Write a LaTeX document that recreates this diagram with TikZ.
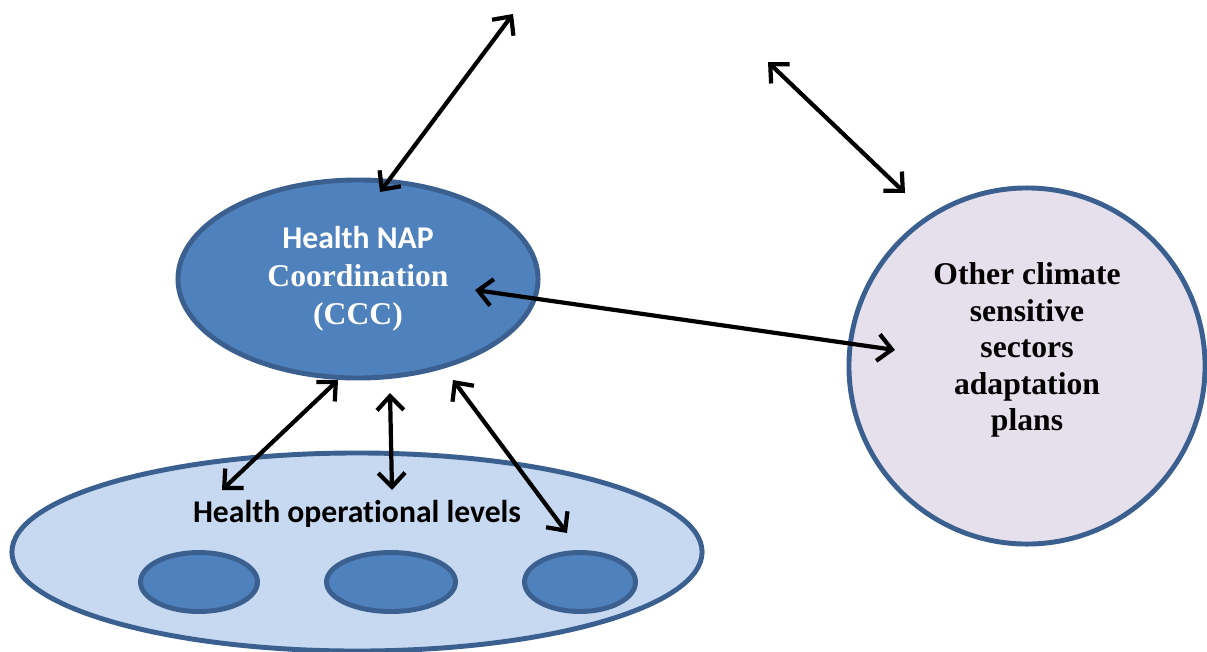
\documentclass[tikz,border=0pt]{standalone}
\usepackage{fontspec}
\setmainfont{Liberation Serif}
\newfontfamily\calibri[Ligatures=NoCommon]{Carlito}
\usepackage{tikz}
\usetikzlibrary{shapes.geometric,arrows.meta}

\definecolor{napblue}{HTML}{4F81BD}
\definecolor{napedge}{HTML}{3B6090}
\definecolor{opblue}{HTML}{C6D9F1}
\definecolor{seclilac}{HTML}{E5E0EC}

\begin{document}
\begin{tikzpicture}[x=0.025cm,y=-0.025cm,
    blob/.style={ellipse,draw=napedge,line width=3.5pt,inner sep=0pt},
    bigtext/.style={align=center,font=\fontsize{22.5}{27}\selectfont\bfseries},
    link/.style={<->,line width=3pt,>={Straight Barb[length=10pt,width=19pt]}}]
    \useasboundingbox (0,0) rectangle (1207,651);
    \begin{scope}
      \node[blob,fill=opblue,minimum width=17.25cm,minimum height=4.95cm] (levels) at (357,552) {};
      \node[blob,fill=napblue,minimum width=2.925cm,minimum height=1.475cm] (lvla) at (199,582) {};
      \node[blob,fill=napblue,minimum width=3.225cm,minimum height=1.475cm] (lvlb) at (391,582) {};
      \node[blob,fill=napblue,minimum width=2.775cm,minimum height=1.475cm] (lvlc) at (580,582) {};
      \node[bigtext] (levelstext) at (357,514) {\calibri Health operational levels};
      \node[blob,fill=napblue,minimum width=9cm,minimum height=4.95cm,bigtext,text=white] (ccc) at (358,279)
        {{\calibri Health NAP}\\Coordination\\(CCC)};
      \node[circle,draw=napedge,line width=3.5pt,fill=seclilac,minimum size=8.9cm] (other) at (1027,366) {};
      \node[bigtext,font=\fontsize{22.5}{26}\selectfont\bfseries] (othertext) at (1027,350)
        {Other climate\\sensitive\\sectors\\adaptation\\plans};
      \coordinate (upa) at (380,192);
      \coordinate (upb) at (513,14);
      \coordinate (rta) at (768,62);
      \coordinate (rtb) at (905,193);
      \coordinate (mida) at (475,290);
      \coordinate (midb) at (895,350);
      \coordinate (lfa) at (338,380);
      \coordinate (lfb) at (222,490);
      \coordinate (cna) at (390,393);
      \coordinate (cnb) at (392,490);
      \coordinate (rga) at (453,380);
      \coordinate (rgb) at (567,533);
      \draw[link] (upa) -- (upb);
      \draw[link] (rta) -- (rtb);
      \draw[link] (mida) -- (midb);
      \draw[link] (lfa) -- (lfb);
      \draw[link] (cna) -- (cnb);
      \draw[link] (rga) -- (rgb);
    \end{scope}
  \end{tikzpicture}
\end{document}
